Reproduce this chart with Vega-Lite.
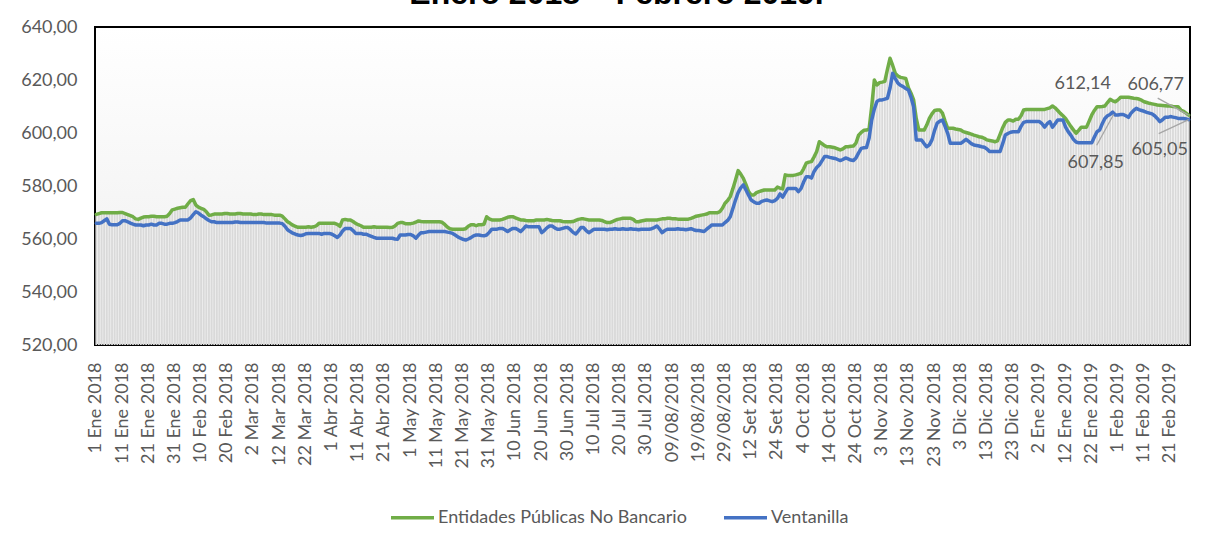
{
"$schema": "https://vega.github.io/schema/vega-lite/v6.json",
"width": 1095, "height": 318,
"autosize": {"type": "none"},
"padding": {"left": 95, "top": 27, "right": 29, "bottom": 197},
"background": "white",
"config": {
  "locale": {"number": {"decimal": ",", "thousands": ".", "grouping": [3], "currency": ["", ""]}},
  "view": {"stroke": "#000000", "strokeWidth": 2, "fill": {"gradient": "linear", "x1": 0, "y1": 0, "x2": 0, "y2": 1, "stops": [{"offset": 0, "color": "#ffffff"}, {"offset": 1, "color": "#eeeeee"}]}},
  "font": "Lato"
},
"title": {"text": "Enero 2018 – Febrero 2019.", "font": "Liberation Sans", "fontSize": 32, "fontWeight": "bold", "color": "#000000", "anchor": "middle", "frame": "group", "baseline": "alphabetic", "offset": 2, "dy": 20, "dx": -26},
"data": {"values": [
{"d":"1 Ene 2018","e":569.3,"v":565.9},{"d":"2 Ene 2018","e":569.6,"v":565.9},{"d":"3 Ene 2018","e":569.9,"v":566.2},{"d":"4 Ene 2018","e":569.9,"v":566.9},{"d":"5 Ene 2018","e":569.9,"v":567.6},{"d":"6 Ene 2018","e":569.9,"v":565.6},{"d":"7 Ene 2018","e":569.9,"v":565.4},{"d":"8 Ene 2018","e":569.9,"v":565.4},{"d":"9 Ene 2018","e":569.9,"v":565.4},{"d":"10 Ene 2018","e":570.0,"v":565.9},
{"d":"11 Ene 2018","e":570.0,"v":566.9},{"d":"12 Ene 2018","e":569.6,"v":566.9},{"d":"13 Ene 2018","e":569.2,"v":566.5},{"d":"14 Ene 2018","e":568.8,"v":566.0},{"d":"15 Ene 2018","e":568.4,"v":565.6},{"d":"16 Ene 2018","e":567.6,"v":565.3},{"d":"17 Ene 2018","e":567.4,"v":565.3},{"d":"18 Ene 2018","e":567.9,"v":565.3},{"d":"19 Ene 2018","e":568.3,"v":565.0},{"d":"20 Ene 2018","e":568.4,"v":565.3},
{"d":"21 Ene 2018","e":568.4,"v":565.3},{"d":"22 Ene 2018","e":568.6,"v":565.6},{"d":"23 Ene 2018","e":568.6,"v":565.3},{"d":"24 Ene 2018","e":568.4,"v":565.3},{"d":"25 Ene 2018","e":568.4,"v":565.9},{"d":"26 Ene 2018","e":568.4,"v":565.9},{"d":"27 Ene 2018","e":568.4,"v":565.6},{"d":"28 Ene 2018","e":568.6,"v":565.6},{"d":"29 Ene 2018","e":569.6,"v":565.9},{"d":"30 Ene 2018","e":571.0,"v":565.9},
{"d":"31 Ene 2018","e":571.3,"v":566.2},{"d":"1 Feb 2018","e":571.6,"v":566.6},{"d":"2 Feb 2018","e":571.8,"v":567.2},{"d":"3 Feb 2018","e":572.0,"v":567.2},{"d":"4 Feb 2018","e":572.0,"v":567.2},{"d":"5 Feb 2018","e":573.3,"v":567.2},{"d":"6 Feb 2018","e":574.5,"v":568.0},{"d":"7 Feb 2018","e":574.9,"v":569.2},{"d":"8 Feb 2018","e":572.8,"v":570.3},{"d":"9 Feb 2018","e":572.0,"v":569.8},
{"d":"10 Feb 2018","e":571.6,"v":569.0},{"d":"11 Feb 2018","e":571.2,"v":568.4},{"d":"12 Feb 2018","e":570.3,"v":567.6},{"d":"13 Feb 2018","e":569.0,"v":567.0},{"d":"14 Feb 2018","e":569.1,"v":566.5},{"d":"15 Feb 2018","e":569.4,"v":566.5},{"d":"16 Feb 2018","e":569.4,"v":566.2},{"d":"17 Feb 2018","e":569.4,"v":566.2},{"d":"18 Feb 2018","e":569.4,"v":566.2},{"d":"19 Feb 2018","e":569.6,"v":566.2},
{"d":"20 Feb 2018","e":569.6,"v":566.2},{"d":"21 Feb 2018","e":569.4,"v":566.2},{"d":"22 Feb 2018","e":569.4,"v":566.2},{"d":"23 Feb 2018","e":569.4,"v":566.4},{"d":"24 Feb 2018","e":569.6,"v":566.4},{"d":"25 Feb 2018","e":569.6,"v":566.2},{"d":"26 Feb 2018","e":569.4,"v":566.2},{"d":"27 Feb 2018","e":569.4,"v":566.2},{"d":"28 Feb 2018","e":569.4,"v":566.2},{"d":"1 Mar 2018","e":569.4,"v":566.2},
{"d":"2 Mar 2018","e":569.2,"v":566.2},{"d":"3 Mar 2018","e":569.2,"v":566.2},{"d":"4 Mar 2018","e":569.4,"v":566.2},{"d":"5 Mar 2018","e":569.4,"v":566.2},{"d":"6 Mar 2018","e":569.2,"v":566.2},{"d":"7 Mar 2018","e":569.2,"v":566.0},{"d":"8 Mar 2018","e":569.2,"v":566.0},{"d":"9 Mar 2018","e":569.2,"v":566.0},{"d":"10 Mar 2018","e":569.0,"v":566.0},{"d":"11 Mar 2018","e":569.0,"v":566.0},
{"d":"12 Mar 2018","e":569.0,"v":566.0},{"d":"13 Mar 2018","e":568.6,"v":565.8},{"d":"14 Mar 2018","e":567.6,"v":564.8},{"d":"15 Mar 2018","e":566.5,"v":563.5},{"d":"16 Mar 2018","e":565.9,"v":562.8},{"d":"17 Mar 2018","e":565.2,"v":562.2},{"d":"18 Mar 2018","e":564.8,"v":561.8},{"d":"19 Mar 2018","e":564.4,"v":561.5},{"d":"20 Mar 2018","e":564.4,"v":561.3},{"d":"21 Mar 2018","e":564.4,"v":561.5},
{"d":"22 Mar 2018","e":564.4,"v":562.0},{"d":"23 Mar 2018","e":564.6,"v":562.1},{"d":"24 Mar 2018","e":564.4,"v":562.1},{"d":"25 Mar 2018","e":564.6,"v":562.1},{"d":"26 Mar 2018","e":565.0,"v":562.1},{"d":"27 Mar 2018","e":565.9,"v":562.1},{"d":"28 Mar 2018","e":565.9,"v":561.8},{"d":"29 Mar 2018","e":565.9,"v":562.1},{"d":"30 Mar 2018","e":565.9,"v":562.1},{"d":"31 Mar 2018","e":565.9,"v":562.1},
{"d":"1 Abr 2018","e":565.9,"v":561.8},{"d":"2 Abr 2018","e":565.9,"v":561.2},{"d":"3 Abr 2018","e":565.5,"v":560.6},{"d":"4 Abr 2018","e":564.8,"v":561.5},{"d":"5 Abr 2018","e":567.2,"v":563.0},{"d":"6 Abr 2018","e":567.4,"v":564.0},{"d":"7 Abr 2018","e":567.2,"v":564.0},{"d":"8 Abr 2018","e":567.2,"v":564.0},{"d":"9 Abr 2018","e":566.6,"v":563.2},{"d":"10 Abr 2018","e":565.9,"v":562.1},
{"d":"11 Abr 2018","e":565.4,"v":562.1},{"d":"12 Abr 2018","e":565.0,"v":562.1},{"d":"13 Abr 2018","e":564.4,"v":561.8},{"d":"14 Abr 2018","e":564.4,"v":561.8},{"d":"15 Abr 2018","e":564.4,"v":561.4},{"d":"16 Abr 2018","e":564.4,"v":561.0},{"d":"17 Abr 2018","e":564.6,"v":560.6},{"d":"18 Abr 2018","e":564.4,"v":560.3},{"d":"19 Abr 2018","e":564.4,"v":560.3},{"d":"20 Abr 2018","e":564.4,"v":560.3},
{"d":"21 Abr 2018","e":564.4,"v":560.3},{"d":"22 Abr 2018","e":564.4,"v":560.3},{"d":"23 Abr 2018","e":564.3,"v":560.3},{"d":"24 Abr 2018","e":564.4,"v":560.3},{"d":"25 Abr 2018","e":564.9,"v":560.0},{"d":"26 Abr 2018","e":565.9,"v":559.9},{"d":"27 Abr 2018","e":566.2,"v":561.5},{"d":"28 Abr 2018","e":566.2,"v":561.5},{"d":"29 Abr 2018","e":565.8,"v":561.5},{"d":"30 Abr 2018","e":565.8,"v":561.7},
{"d":"1 May 2018","e":565.8,"v":561.7},{"d":"2 May 2018","e":566.0,"v":561.2},{"d":"3 May 2018","e":566.4,"v":560.3},{"d":"4 May 2018","e":566.8,"v":561.5},{"d":"5 May 2018","e":566.6,"v":562.4},{"d":"6 May 2018","e":566.5,"v":562.4},{"d":"7 May 2018","e":566.5,"v":562.6},{"d":"8 May 2018","e":566.5,"v":562.8},{"d":"9 May 2018","e":566.5,"v":562.8},{"d":"10 May 2018","e":566.5,"v":562.8},
{"d":"11 May 2018","e":566.5,"v":562.8},{"d":"12 May 2018","e":566.5,"v":562.8},{"d":"13 May 2018","e":566.3,"v":562.8},{"d":"14 May 2018","e":565.5,"v":562.8},{"d":"15 May 2018","e":564.5,"v":562.6},{"d":"16 May 2018","e":563.9,"v":562.4},{"d":"17 May 2018","e":563.7,"v":562.1},{"d":"18 May 2018","e":563.7,"v":561.5},{"d":"19 May 2018","e":563.7,"v":560.8},{"d":"20 May 2018","e":563.7,"v":560.3},
{"d":"21 May 2018","e":563.7,"v":559.9},{"d":"22 May 2018","e":563.9,"v":559.6},{"d":"23 May 2018","e":564.8,"v":560.0},{"d":"24 May 2018","e":565.4,"v":560.5},{"d":"25 May 2018","e":565.4,"v":561.2},{"d":"26 May 2018","e":565.0,"v":561.5},{"d":"27 May 2018","e":565.4,"v":561.5},{"d":"28 May 2018","e":565.4,"v":561.3},{"d":"29 May 2018","e":565.6,"v":561.2},{"d":"30 May 2018","e":568.4,"v":561.5},
{"d":"31 May 2018","e":567.6,"v":562.5},{"d":"1 Jun 2018","e":567.2,"v":563.7},{"d":"2 Jun 2018","e":567.2,"v":563.7},{"d":"3 Jun 2018","e":567.2,"v":563.7},{"d":"4 Jun 2018","e":567.2,"v":564.0},{"d":"5 Jun 2018","e":567.4,"v":564.0},{"d":"6 Jun 2018","e":567.8,"v":563.5},{"d":"7 Jun 2018","e":568.2,"v":562.8},{"d":"8 Jun 2018","e":568.4,"v":563.5},{"d":"9 Jun 2018","e":568.4,"v":564.0},
{"d":"10 Jun 2018","e":568.0,"v":564.0},{"d":"11 Jun 2018","e":567.6,"v":563.5},{"d":"12 Jun 2018","e":567.2,"v":562.8},{"d":"13 Jun 2018","e":567.2,"v":563.8},{"d":"14 Jun 2018","e":567.0,"v":564.9},{"d":"15 Jun 2018","e":566.9,"v":564.6},{"d":"16 Jun 2018","e":566.9,"v":564.6},{"d":"17 Jun 2018","e":566.9,"v":564.6},{"d":"18 Jun 2018","e":567.2,"v":564.6},{"d":"19 Jun 2018","e":567.2,"v":564.6},
{"d":"20 Jun 2018","e":567.2,"v":562.4},{"d":"21 Jun 2018","e":567.2,"v":563.2},{"d":"22 Jun 2018","e":567.4,"v":564.2},{"d":"23 Jun 2018","e":567.2,"v":564.9},{"d":"24 Jun 2018","e":567.0,"v":564.9},{"d":"25 Jun 2018","e":566.9,"v":564.2},{"d":"26 Jun 2018","e":566.9,"v":563.7},{"d":"27 Jun 2018","e":566.9,"v":563.7},{"d":"28 Jun 2018","e":566.6,"v":564.0},{"d":"29 Jun 2018","e":566.5,"v":564.3},
{"d":"30 Jun 2018","e":566.5,"v":564.3},{"d":"1 Jul 2018","e":566.5,"v":563.5},{"d":"2 Jul 2018","e":566.6,"v":562.5},{"d":"3 Jul 2018","e":567.0,"v":561.9},{"d":"4 Jul 2018","e":567.4,"v":563.0},{"d":"5 Jul 2018","e":567.6,"v":564.3},{"d":"6 Jul 2018","e":567.6,"v":564.3},{"d":"7 Jul 2018","e":567.4,"v":563.2},{"d":"8 Jul 2018","e":567.2,"v":562.4},{"d":"9 Jul 2018","e":567.2,"v":563.0},
{"d":"10 Jul 2018","e":567.2,"v":563.7},{"d":"11 Jul 2018","e":567.2,"v":563.7},{"d":"12 Jul 2018","e":567.2,"v":563.7},{"d":"13 Jul 2018","e":567.0,"v":563.7},{"d":"14 Jul 2018","e":566.6,"v":563.7},{"d":"15 Jul 2018","e":566.2,"v":563.5},{"d":"16 Jul 2018","e":566.2,"v":563.7},{"d":"17 Jul 2018","e":566.6,"v":563.7},{"d":"18 Jul 2018","e":567.0,"v":563.9},{"d":"19 Jul 2018","e":567.4,"v":563.7},
{"d":"20 Jul 2018","e":567.6,"v":563.7},{"d":"21 Jul 2018","e":567.8,"v":563.9},{"d":"22 Jul 2018","e":567.8,"v":563.7},{"d":"23 Jul 2018","e":567.8,"v":563.7},{"d":"24 Jul 2018","e":567.8,"v":563.9},{"d":"25 Jul 2018","e":567.4,"v":563.7},{"d":"26 Jul 2018","e":566.5,"v":563.7},{"d":"27 Jul 2018","e":566.5,"v":563.5},{"d":"28 Jul 2018","e":566.8,"v":563.7},{"d":"29 Jul 2018","e":567.0,"v":563.7},
{"d":"30 Jul 2018","e":567.2,"v":563.7},{"d":"31 Jul 2018","e":567.2,"v":563.7},{"d":"01/08/2018","e":567.2,"v":563.9},{"d":"02/08/2018","e":567.2,"v":564.3},{"d":"03/08/2018","e":567.2,"v":564.9},{"d":"04/08/2018","e":567.4,"v":563.8},{"d":"05/08/2018","e":567.6,"v":562.4},{"d":"06/08/2018","e":567.6,"v":563.2},{"d":"07/08/2018","e":567.8,"v":563.7},{"d":"08/08/2018","e":567.8,"v":563.7},
{"d":"09/08/2018","e":567.6,"v":563.7},{"d":"10/08/2018","e":567.6,"v":563.7},{"d":"11/08/2018","e":567.5,"v":563.9},{"d":"12/08/2018","e":567.5,"v":563.7},{"d":"13/08/2018","e":567.5,"v":563.7},{"d":"14/08/2018","e":567.5,"v":563.5},{"d":"15/08/2018","e":567.5,"v":563.7},{"d":"16/08/2018","e":567.8,"v":563.9},{"d":"17/08/2018","e":568.2,"v":563.5},{"d":"18/08/2018","e":568.6,"v":563.2},
{"d":"19/08/2018","e":568.8,"v":563.2},{"d":"20/08/2018","e":569.0,"v":563.0},{"d":"21/08/2018","e":569.2,"v":562.8},{"d":"22/08/2018","e":569.4,"v":563.7},{"d":"23/08/2018","e":569.9,"v":564.5},{"d":"24/08/2018","e":569.9,"v":565.3},{"d":"25/08/2018","e":569.9,"v":565.3},{"d":"26/08/2018","e":569.9,"v":565.3},{"d":"27/08/2018","e":570.3,"v":565.3},{"d":"28/08/2018","e":571.6,"v":565.3},
{"d":"29/08/2018","e":573.5,"v":566.2},{"d":"3 Set 2018","e":574.5,"v":567.0},{"d":"4 Set 2018","e":576.0,"v":568.4},{"d":"5 Set 2018","e":579.0,"v":571.5},{"d":"6 Set 2018","e":582.3,"v":574.7},{"d":"7 Set 2018","e":585.8,"v":577.5},{"d":"8 Set 2018","e":584.5,"v":579.3},{"d":"9 Set 2018","e":582.9,"v":580.4},{"d":"10 Set 2018","e":580.5,"v":578.5},{"d":"11 Set 2018","e":577.9,"v":576.5},
{"d":"12 Set 2018","e":576.6,"v":574.7},{"d":"13 Set 2018","e":576.6,"v":574.0},{"d":"14 Set 2018","e":577.5,"v":573.5},{"d":"17 Set 2018","e":577.9,"v":573.5},{"d":"18 Set 2018","e":578.2,"v":574.2},{"d":"19 Set 2018","e":578.5,"v":574.5},{"d":"20 Set 2018","e":578.5,"v":574.7},{"d":"21 Set 2018","e":578.5,"v":574.4},{"d":"22 Set 2018","e":578.5,"v":574.1},{"d":"23 Set 2018","e":578.5,"v":574.5},
{"d":"24 Set 2018","e":579.6,"v":575.3},{"d":"25 Set 2018","e":579.2,"v":577.0},{"d":"26 Set 2018","e":578.9,"v":575.8},{"d":"27 Set 2018","e":584.2,"v":577.5},{"d":"28 Set 2018","e":584.0,"v":579.1},{"d":"29 Set 2018","e":584.0,"v":579.1},{"d":"30 Set 2018","e":584.0,"v":579.1},{"d":"1 Oct 2018","e":584.2,"v":579.1},{"d":"2 Oct 2018","e":584.5,"v":577.9},{"d":"3 Oct 2018","e":584.8,"v":579.0},
{"d":"4 Oct 2018","e":586.5,"v":581.5},{"d":"5 Oct 2018","e":588.6,"v":583.5},{"d":"6 Oct 2018","e":589.0,"v":583.5},{"d":"7 Oct 2018","e":589.2,"v":583.0},{"d":"8 Oct 2018","e":591.0,"v":585.5},{"d":"9 Oct 2018","e":593.0,"v":587.0},{"d":"10 Oct 2018","e":596.7,"v":587.9},{"d":"11 Oct 2018","e":596.0,"v":589.5},{"d":"12 Oct 2018","e":595.2,"v":591.1},{"d":"13 Oct 2018","e":594.8,"v":591.1},
{"d":"14 Oct 2018","e":594.8,"v":590.8},{"d":"15 Oct 2018","e":594.6,"v":590.6},{"d":"16 Oct 2018","e":594.4,"v":590.4},{"d":"17 Oct 2018","e":594.0,"v":590.0},{"d":"18 Oct 2018","e":593.6,"v":589.6},{"d":"19 Oct 2018","e":594.0,"v":590.0},{"d":"20 Oct 2018","e":594.8,"v":590.6},{"d":"21 Oct 2018","e":594.8,"v":590.2},{"d":"22 Oct 2018","e":595.0,"v":589.8},{"d":"23 Oct 2018","e":595.1,"v":589.6},
{"d":"24 Oct 2018","e":596.2,"v":590.6},{"d":"25 Oct 2018","e":599.2,"v":592.5},{"d":"26 Oct 2018","e":600.2,"v":594.2},{"d":"27 Oct 2018","e":601.0,"v":594.4},{"d":"28 Oct 2018","e":601.1,"v":594.5},{"d":"29 Oct 2018","e":601.5,"v":598.0},{"d":"30 Oct 2018","e":610.0,"v":604.9},{"d":"31 Oct 2018","e":620.0,"v":609.0},{"d":"1 Nov 2018","e":618.1,"v":611.9},{"d":"2 Nov 2018","e":619.0,"v":612.5},
{"d":"3 Nov 2018","e":619.2,"v":612.5},{"d":"4 Nov 2018","e":619.5,"v":612.8},{"d":"5 Nov 2018","e":624.0,"v":613.1},{"d":"6 Nov 2018","e":628.2,"v":617.0},{"d":"7 Nov 2018","e":625.5,"v":622.5},{"d":"8 Nov 2018","e":622.5,"v":620.5},{"d":"9 Nov 2018","e":621.5,"v":618.8},{"d":"10 Nov 2018","e":621.0,"v":618.0},{"d":"11 Nov 2018","e":620.8,"v":617.5},{"d":"12 Nov 2018","e":620.6,"v":616.8},
{"d":"13 Nov 2018","e":617.1,"v":616.2},{"d":"14 Nov 2018","e":615.0,"v":613.5},{"d":"15 Nov 2018","e":612.5,"v":609.9},{"d":"16 Nov 2018","e":605.5,"v":597.4},{"d":"17 Nov 2018","e":601.1,"v":597.4},{"d":"18 Nov 2018","e":601.1,"v":597.4},{"d":"19 Nov 2018","e":601.1,"v":596.0},{"d":"20 Nov 2018","e":603.0,"v":594.8},{"d":"21 Nov 2018","e":605.5,"v":595.5},{"d":"22 Nov 2018","e":607.2,"v":597.4},
{"d":"23 Nov 2018","e":608.5,"v":601.0},{"d":"24 Nov 2018","e":608.7,"v":603.7},{"d":"25 Nov 2018","e":608.7,"v":604.5},{"d":"26 Nov 2018","e":607.5,"v":604.9},{"d":"27 Nov 2018","e":604.5,"v":602.5},{"d":"28 Nov 2018","e":601.8,"v":599.9},{"d":"29 Nov 2018","e":601.8,"v":596.1},{"d":"30 Nov 2018","e":601.8,"v":596.1},{"d":"1 Dic 2018","e":601.5,"v":596.1},{"d":"2 Dic 2018","e":601.3,"v":596.1},
{"d":"3 Dic 2018","e":601.1,"v":596.1},{"d":"4 Dic 2018","e":600.5,"v":596.8},{"d":"5 Dic 2018","e":600.2,"v":597.6},{"d":"6 Dic 2018","e":599.9,"v":596.8},{"d":"7 Dic 2018","e":599.6,"v":596.0},{"d":"8 Dic 2018","e":599.2,"v":595.5},{"d":"9 Dic 2018","e":598.9,"v":595.3},{"d":"10 Dic 2018","e":598.6,"v":595.1},{"d":"11 Dic 2018","e":598.4,"v":594.8},{"d":"12 Dic 2018","e":598.0,"v":594.6},
{"d":"13 Dic 2018","e":597.4,"v":594.0},{"d":"14 Dic 2018","e":597.2,"v":593.0},{"d":"15 Dic 2018","e":597.0,"v":593.0},{"d":"16 Dic 2018","e":596.7,"v":593.0},{"d":"17 Dic 2018","e":597.0,"v":593.0},{"d":"18 Dic 2018","e":599.5,"v":593.0},{"d":"19 Dic 2018","e":602.0,"v":596.0},{"d":"20 Dic 2018","e":604.0,"v":599.2},{"d":"21 Dic 2018","e":604.9,"v":599.8},{"d":"22 Dic 2018","e":604.9,"v":600.3},
{"d":"23 Dic 2018","e":604.5,"v":600.5},{"d":"24 Dic 2018","e":605.2,"v":600.5},{"d":"25 Dic 2018","e":605.2,"v":600.5},{"d":"26 Dic 2018","e":606.5,"v":602.5},{"d":"27 Dic 2018","e":608.7,"v":604.0},{"d":"28 Dic 2018","e":608.9,"v":604.3},{"d":"29 Dic 2018","e":608.9,"v":604.3},{"d":"30 Dic 2018","e":608.9,"v":604.3},{"d":"31 Dic 2018","e":608.9,"v":604.3},{"d":"1 Ene 2019","e":608.9,"v":604.3},
{"d":"2 Ene 2019","e":608.9,"v":604.3},{"d":"3 Ene 2019","e":608.9,"v":603.5},{"d":"4 Ene 2019","e":608.9,"v":602.2},{"d":"5 Ene 2019","e":609.2,"v":603.5},{"d":"6 Ene 2019","e":609.5,"v":604.3},{"d":"7 Ene 2019","e":610.2,"v":602.2},{"d":"8 Ene 2019","e":609.5,"v":603.5},{"d":"9 Ene 2019","e":608.5,"v":604.9},{"d":"10 Ene 2019","e":607.4,"v":604.9},{"d":"11 Ene 2019","e":606.5,"v":604.9},
{"d":"12 Ene 2019","e":605.5,"v":602.2},{"d":"13 Ene 2019","e":604.0,"v":600.5},{"d":"14 Ene 2019","e":602.5,"v":599.2},{"d":"15 Ene 2019","e":601.2,"v":597.6},{"d":"16 Ene 2019","e":599.9,"v":596.6},{"d":"17 Ene 2019","e":601.0,"v":596.3},{"d":"18 Ene 2019","e":602.2,"v":596.3},{"d":"19 Ene 2019","e":602.2,"v":596.3},{"d":"20 Ene 2019","e":602.2,"v":596.3},{"d":"21 Ene 2019","e":604.5,"v":596.3},
{"d":"22 Ene 2019","e":606.8,"v":596.3},{"d":"23 Ene 2019","e":608.5,"v":598.5},{"d":"24 Ene 2019","e":609.9,"v":600.5},{"d":"25 Ene 2019","e":609.9,"v":601.1},{"d":"26 Ene 2019","e":610.0,"v":603.5},{"d":"27 Ene 2019","e":610.2,"v":605.5},{"d":"28 Ene 2019","e":611.5,"v":606.5},{"d":"29 Ene 2019","e":612.7,"v":607.0},{"d":"30 Ene 2019","e":612.14,"v":607.85},{"d":"31 Ene 2019","e":611.8,"v":606.8},
{"d":"1 Feb 2019","e":612.5,"v":606.8},{"d":"2 Feb 2019","e":613.5,"v":607.0},{"d":"3 Feb 2019","e":613.5,"v":607.0},{"d":"4 Feb 2019","e":613.5,"v":606.5},{"d":"5 Feb 2019","e":613.5,"v":605.9},{"d":"6 Feb 2019","e":613.3,"v":607.5},{"d":"7 Feb 2019","e":613.1,"v":608.5},{"d":"8 Feb 2019","e":613.0,"v":609.3},{"d":"9 Feb 2019","e":612.8,"v":608.8},{"d":"10 Feb 2019","e":612.4,"v":608.5},
{"d":"11 Feb 2019","e":611.8,"v":608.2},{"d":"12 Feb 2019","e":611.5,"v":607.8},{"d":"13 Feb 2019","e":611.2,"v":607.5},{"d":"14 Feb 2019","e":611.0,"v":607.2},{"d":"15 Feb 2019","e":610.8,"v":606.5},{"d":"16 Feb 2019","e":610.6,"v":605.5},{"d":"17 Feb 2019","e":610.5,"v":604.3},{"d":"18 Feb 2019","e":610.4,"v":605.0},{"d":"19 Feb 2019","e":610.3,"v":605.9},{"d":"20 Feb 2019","e":610.2,"v":605.9},
{"d":"21 Feb 2019","e":610.2,"v":606.2},{"d":"22 Feb 2019","e":610.0,"v":606.0},{"d":"23 Feb 2019","e":609.9,"v":605.8},{"d":"24 Feb 2019","e":609.9,"v":605.5},{"d":"25 Feb 2019","e":608.7,"v":605.5},{"d":"26 Feb 2019","e":608.2,"v":605.5},{"d":"27 Feb 2019","e":607.5,"v":605.3},{"d":"28 Feb 2019","e":606.77,"v":605.05}
]},
"encoding": {
  "x": {"field": "d", "type": "nominal", "sort": null,
    "scale": {"paddingInner": 0.3, "paddingOuter": 0.15},
    "axis": {"title": null, "labelAngle": -90, "ticks": false, "domain": false, "labelOverlap": false,
      "labelFont": "Lato", "labelFontSize": 18, "labelColor": "#595959", "labelPadding": 17,
      "values": ["1 Ene 2018","11 Ene 2018","21 Ene 2018","31 Ene 2018","10 Feb 2018","20 Feb 2018","2 Mar 2018","12 Mar 2018","22 Mar 2018","1 Abr 2018","11 Abr 2018","21 Abr 2018","1 May 2018","11 May 2018","21 May 2018","31 May 2018","10 Jun 2018","20 Jun 2018","30 Jun 2018","10 Jul 2018","20 Jul 2018","30 Jul 2018","09/08/2018","19/08/2018","29/08/2018","12 Set 2018","24 Set 2018","4 Oct 2018","14 Oct 2018","24 Oct 2018","3 Nov 2018","13 Nov 2018","23 Nov 2018","3 Dic 2018","13 Dic 2018","23 Dic 2018","2 Ene 2019","12 Ene 2019","22 Ene 2019","1 Feb 2019","11 Feb 2019","21 Feb 2019"]}}
},
"layer": [
  {"mark": {"type": "bar", "color": "#d9d9d9", "clip": true},
   "encoding": {"y": {"field": "e", "type": "quantitative", "scale": {"domain": [520, 640], "zero": false, "nice": false},
     "axis": {"title": null, "values": [520, 540, 560, 580, 600, 620, 640], "format": ".2f", "grid": false, "ticks": false, "domain": false,
       "labelFont": "Lato", "labelFontSize": 18, "labelColor": "#595959", "labelPadding": 18}}}},
  {"mark": {"type": "line", "strokeWidth": 3.5, "strokeJoin": "round", "strokeCap": "round"},
   "encoding": {"y": {"field": "e", "type": "quantitative"},
     "color": {"datum": "Entidades Públicas No Bancario", "type": "nominal",
       "scale": {"domain": ["Entidades Públicas No Bancario", "Ventanilla"], "range": ["#70ad47", "#4472c4"]},
       "legend": {"orient": "none", "legendX": 294, "legendY": 467, "direction": "horizontal", "title": null,
         "symbolType": "stroke", "symbolSize": 1849, "symbolStrokeWidth": 3.5, "labelFont": "Lato", "labelFontSize": 18,
         "labelColor": "#595959", "labelOffset": 2, "columnPadding": 30, "padding": 0, "labelLimit": 400}}}},
  {"mark": {"type": "line", "strokeWidth": 3.5, "strokeJoin": "round", "strokeCap": "round"},
   "encoding": {"y": {"field": "v", "type": "quantitative"},
     "color": {"datum": "Ventanilla", "type": "nominal"}}},
  {"transform": [{"filter": "datum.d == '30 Ene 2019'"}],
   "mark": {"type": "text", "dx": -30, "dy": -17, "font": "Lato", "fontSize": 18, "color": "#595959"},
   "encoding": {"y": {"field": "e", "type": "quantitative"}, "text": {"field": "e", "type": "quantitative", "format": ".2f"}}},
  {"transform": [{"filter": "datum.d == '30 Ene 2019'"}],
   "mark": {"type": "text", "dx": -17, "dy": 51, "font": "Lato", "fontSize": 18, "color": "#595959"},
   "encoding": {"y": {"field": "v", "type": "quantitative"}, "text": {"field": "v", "type": "quantitative", "format": ".2f"}}},
  {"transform": [{"filter": "datum.d == '28 Feb 2019'"}],
   "mark": {"type": "text", "dx": -33, "dy": -30, "font": "Lato", "fontSize": 18, "color": "#595959"},
   "encoding": {"y": {"field": "e", "type": "quantitative"}, "text": {"field": "e", "type": "quantitative", "format": ".2f"}}},
  {"transform": [{"filter": "datum.d == '28 Feb 2019'"}],
   "mark": {"type": "text", "dx": -29, "dy": 30, "font": "Lato", "fontSize": 18, "color": "#595959"},
   "encoding": {"y": {"field": "v", "type": "quantitative"}, "text": {"field": "v", "type": "quantitative", "format": ".2f"}}},
  {"transform": [{"filter": "datum.d == '30 Ene 2019'"}],
   "mark": {"type": "rule", "color": "#a6a6a6", "strokeWidth": 1.3, "xOffset": 1, "yOffset": 2, "x2Offset": -16, "y2Offset": 33},
   "encoding": {"x2": {"field": "d"}, "y": {"field": "v", "type": "quantitative"}, "y2": {"field": "v"}}},
  {"transform": [{"filter": "datum.d == '28 Feb 2019'"}],
   "mark": {"type": "rule", "color": "#a6a6a6", "strokeWidth": 1.3, "x2Offset": -31, "y2Offset": -17},
   "encoding": {"x2": {"field": "d"}, "y": {"field": "e", "type": "quantitative"}, "y2": {"field": "e"}}},
  {"transform": [{"filter": "datum.d == '28 Feb 2019'"}],
   "mark": {"type": "rule", "color": "#a6a6a6", "strokeWidth": 1.3, "x2Offset": -30, "y2Offset": 14},
   "encoding": {"x2": {"field": "d"}, "y": {"field": "v", "type": "quantitative"}, "y2": {"field": "v"}}}
]
}
